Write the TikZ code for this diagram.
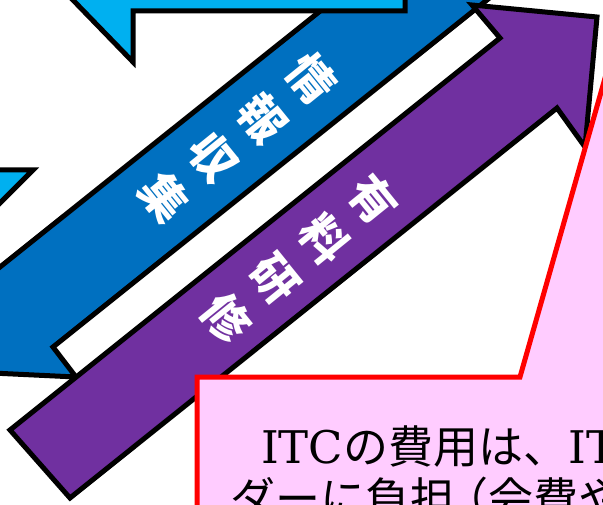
\documentclass[tikz,border=0pt]{standalone}
\usepackage{fontspec}
\setmainfont{DejaVu Serif}
\newfontfamily\jp{Noto Sans CJK JP}
\definecolor{cyanA}{HTML}{00B0F0}
\definecolor{blueA}{HTML}{0070C0}
\definecolor{purpA}{HTML}{7030A0}
\definecolor{pinkA}{HTML}{FFCCFF}
\definecolor{redA}{HTML}{FF0000}
\tikzset{
  arrowshape/.style={draw=black, line width=5pt, line join=miter},
  lab/.style={text=white, inner sep=0pt, rotate=-51, align=center,
    font={\jp\bfseries\fontsize{46}{63}\selectfont}},
  calloutshape/.style={draw=redA, fill=pinkA, line width=5pt, line join=miter},
  ctext/.style={anchor=base west, inner sep=0pt, text=black,
    font={\fontsize{45}{52}\selectfont}}
}
\begin{document}
\begin{tikzpicture}[x=1pt,y=-1pt]
\useasboundingbox (0,0) rectangle (603,505);
\clip (0,0) rectangle (603,505);
\fill[white] (0,0) rectangle (603,505);
% blue arrow (information gathering)
\draw[arrowshape, fill=blueA] (-50,307) -- (384,-40) -- (537,-40) -- (53,347) -- (76,377) -- (-50,371) -- cycle;
% cyan shapes
\draw[arrowshape, fill=cyanA] (39,-35) -- (133,62) -- (133,11) -- (405,11) -- (405,-35) -- cycle;
\draw[arrowshape, fill=cyanA] (-40,170) -- (33,170) -- (-40,243) -- cycle;
% purple arrow (paid training)
\draw[arrowshape, fill=purpA] (10,430) -- (70,498) -- (557,108) -- (585,147) -- (597,17) -- (472,5) -- (500,38) -- cycle;
% labels
\node[lab] (blab) at (238,138) {情\\報\\収\\集};
\node[lab] (plab) at (300,259) {有\\料\\研\\修};
% callout
\draw[calloutshape] (197,377) -- (520,377) -- (650,-80) -- (720,-80) -- (720,600) -- (197,600) -- cycle;
\node[ctext] (t1) at (261,463) {ITC{\jp の費用は、}IT};
\node[ctext] (t2) at (230,515) {{\jp ダーに負担\kern-12pt （会費や}};
\end{tikzpicture}
\end{document}
